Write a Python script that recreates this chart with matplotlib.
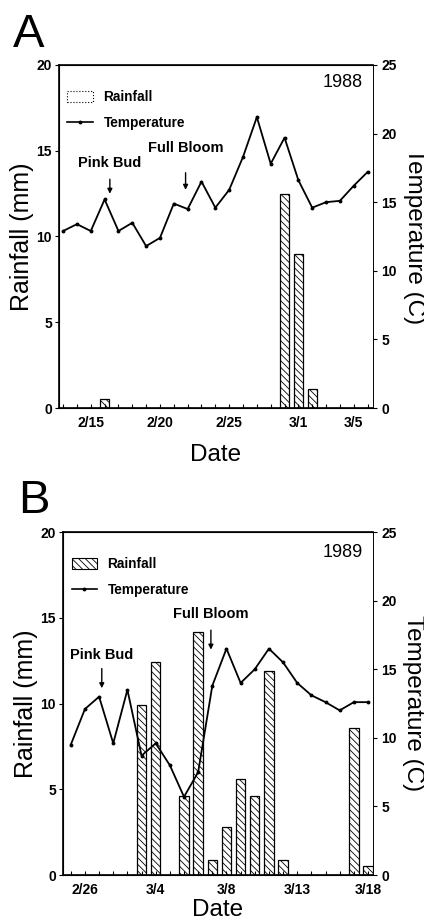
import numpy as np
import matplotlib
matplotlib.use("Agg")
import matplotlib.pyplot as plt
from matplotlib.patches import Patch
from matplotlib.lines import Line2D

plt.rcParams["font.family"] = ["Liberation Sans", "DejaVu Sans"]
plt.rcParams["hatch.linewidth"] = 0.6

# ---- 1988 (panel A) : daily values 2/13 .. 3/6
days_88 = ["2/13", "2/14", "2/15", "2/16", "2/17", "2/18", "2/19", "2/20", "2/21",
           "2/22", "2/23", "2/24", "2/25", "2/26", "2/27", "2/28", "2/29", "3/1",
           "3/2", "3/3", "3/4", "3/5", "3/6"]
temp_88 = [12.9, 13.4, 12.9, 15.2, 12.9, 13.5, 11.8, 12.4, 14.9, 14.5, 16.5, 14.6,
           15.9, 18.3, 21.2, 17.8, 19.7, 16.6, 14.6, 15.0, 15.1, 16.2, 17.2]
rain_88 = [0, 0, 0, 0.5, 0, 0, 0, 0, 0, 0, 0, 0,
           0, 0, 0, 0, 12.5, 9.0, 1.1, 0, 0, 0, 0]
ticks_88 = ["2/15", "2/20", "2/25", "3/1", "3/5"]

# ---- 1989 (panel B) : daily values 2/25 .. 3/18
days_89 = ["2/25", "2/26", "2/27", "2/28", "3/1", "3/2", "3/3", "3/4", "3/5", "3/6",
           "3/7", "3/8", "3/9", "3/10", "3/11", "3/12", "3/13", "3/14", "3/15",
           "3/16", "3/17", "3/18"]
temp_89 = [9.5, 12.1, 13.0, 9.6, 13.5, 8.7, 9.6, 8.0, 5.7, 7.5, 13.8, 16.5,
           14.0, 15.0, 16.5, 15.5, 14.0, 13.1, 12.6, 12.0, 12.6, 12.6]
rain_89 = [0, 0, 0, 0, 0, 9.9, 12.4, 0, 4.6, 14.2, 0.9, 2.8,
           5.6, 4.6, 11.9, 0.9, 0, 0, 0, 0, 8.6, 0.5]
ticks_89 = ["2/26", "3/4", "3/8", "3/13", "3/18"]
tickpos_89 = ["2/26", "3/3", "3/8", "3/13", "3/18"]  # where the printed labels sit

HATCH = "\\\\\\\\\\"


def panel(rect, days, temp, rain, tick_days, tick_labels, year, xlim,
          pink, bloom, legend_patch, year_y, date_pad):
    ax = fig.add_axes(rect)
    x = np.arange(len(days))
    ax.bar(x, rain, width=0.66, color="white", edgecolor="black",
           hatch=HATCH, linewidth=0.9)
    ax.set_ylim(0, 20)
    ax.set_xlim(*xlim)
    ax.set_yticks([0, 5, 10, 15, 20])
    ax.set_xticks([days.index(d) for d in tick_days])
    ax.set_xticklabels(tick_labels)
    ax.set_xticks(x, minor=True)
    ax.tick_params(axis="x", which="both", direction="in", length=3, width=0.8, pad=6,
                   labelsize=10)
    ax.tick_params(axis="y", direction="out", length=3, width=0.8, labelsize=10, pad=2)
    for lab in ax.get_xticklabels() + ax.get_yticklabels():
        lab.set_fontweight("bold")
    for s in ["left", "top", "bottom"]:
        ax.spines[s].set_linewidth(1.2)
    ax.spines["right"].set_linewidth(0.6)
    ax.set_ylabel("Rainfall (mm)", fontsize=18, labelpad=2)
    ax.set_xlabel("Date", fontsize=17.5, labelpad=date_pad)

    ax2 = ax.twinx()
    ax2.plot(x, temp, color="black", lw=1.3, marker="o", markersize=1.8)
    ax2.set_ylim(0, 25)
    ax2.set_yticks([0, 5, 10, 15, 20, 25])
    ax2.tick_params(axis="y", direction="out", length=3, width=0.8, labelsize=10, pad=3)
    for lab in ax2.get_yticklabels():
        lab.set_fontweight("bold")
    ax2.spines["right"].set_linewidth(0.6)
    ax2.set_ylabel("Temperature (C)", fontsize=17.5, rotation=270, va="bottom",
                   labelpad=4)

    # stage arrows (given in rainfall units, drawn on the temperature axis)
    for name, (xa, ytext, ytop, ytip) in [("Pink Bud", pink), ("Full Bloom", bloom)]:
        ax2.annotate("", xy=(xa, ytip * 1.25), xytext=(xa, ytop * 1.25),
                     arrowprops=dict(arrowstyle="-|>", lw=1.0, color="black",
                                     mutation_scale=7))
        ax2.text(xa, ytext * 1.25, name, ha="center", va="center",
                 fontsize=10.5, fontweight="bold")

    ax2.text(0.968, year_y, year, transform=ax.transAxes, ha="right", va="center",
             fontsize=13)

    handles = [legend_patch,
               Line2D([], [], color="black", lw=1.2, marker="o", markersize=1.8)]
    ax2.legend(handles, ["Rainfall", "Temperature"], loc="upper left",
               bbox_to_anchor=(-0.012, 0.962), frameon=False, handlelength=1.9,
               handleheight=0.9, handletextpad=0.75, labelspacing=0.85,
               prop={"size": 9.8, "weight": "bold"})
    return ax


fig = plt.figure(figsize=(4.24, 9.24), dpi=100)

panel([0.139, 0.5584, 0.741, 0.3713], days_88, temp_88, rain_88,
      ["2/15", "2/20", "2/25", "3/1", "3/5"], ticks_88, "1988", (-0.3, 22.4),
      (3.38, 14.27, 13.5, 12.33), (8.85, 15.18, 13.88, 12.56),
      Patch(facecolor="white", edgecolor="black", linestyle=":", linewidth=0.8),
      0.950, 10)

panel([0.1486, 0.053, 0.731, 0.3712], days_89, temp_89, rain_89,
      tickpos_89, ticks_89, "1989", (-0.55, 21.35),
      (2.19, 12.84, 12.2, 10.73), (9.9, 15.22, 14.44, 12.98),
      Patch(facecolor="white", edgecolor="black", hatch=HATCH, linewidth=0.8),
      0.939, 1)

fig.text(13 / 424, 1 - 47 / 924, "A", fontsize=34, va="baseline", ha="left")
fig.text(18 / 424, 1 - 513 / 924, "B", fontsize=34, va="baseline", ha="left")

fig.savefig("out.png", dpi=100)
